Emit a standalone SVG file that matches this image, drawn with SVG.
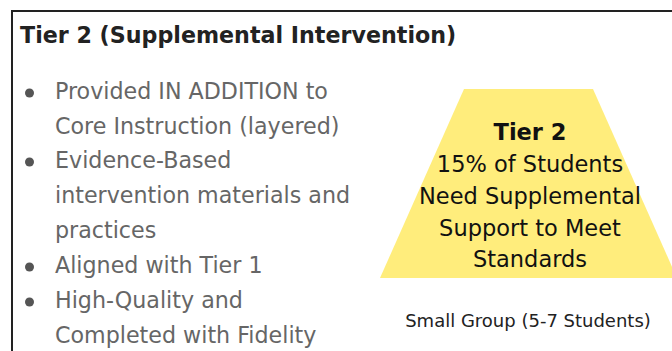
<svg xmlns="http://www.w3.org/2000/svg" width="672" height="351" viewBox="0 0 672 351">
<style>
.title{font-family:"DejaVu Sans",sans-serif;font-weight:bold;font-size:22.2px;fill:#222}
.bul{font-family:"DejaVu Sans",sans-serif;font-size:22.2px;fill:#666}
.dot{fill:#555}
.pyr{font-family:"DejaVu Sans",sans-serif;font-size:22.5px;fill:#111;text-anchor:middle}
.small{font-family:"DejaVu Sans",sans-serif;font-size:18px;fill:#222;text-anchor:middle}
</style>
<rect width="672" height="351" fill="#fff"/>
<g id="frame" stroke="#222" stroke-width="2" fill="none">
<line x1="12" y1="11" x2="672" y2="11"/>
<line x1="12" y1="10" x2="12" y2="351"/>
</g>
<g id="title"><text class="title" x="20" y="43">Tier 2 (Supplemental Intervention)</text></g>
<g id="bullets">
<circle class="dot" cx="29.5" cy="93" r="4.5"/>
<text class="bul" x="55" y="99">Provided IN ADDITION to</text>
<text class="bul" x="55" y="134">Core Instruction (layered)</text>
<circle class="dot" cx="29.5" cy="162" r="4.5"/>
<text class="bul" x="55" y="168">Evidence-Based</text>
<text class="bul" x="55" y="203">intervention materials and</text>
<text class="bul" x="55" y="238">practices</text>
<circle class="dot" cx="29.5" cy="267" r="4.5"/>
<text class="bul" x="55" y="273">Aligned with Tier 1</text>
<circle class="dot" cx="29.5" cy="302" r="4.5"/>
<text class="bul" x="55" y="308">High-Quality and</text>
<text class="bul" x="55" y="343">Completed with Fidelity</text>
</g>
<g id="pyramid">
<polygon points="464,89 593,89 677,278 380,278" fill="#FFED7C"/>
<text class="pyr" x="530" y="140" font-weight="bold">Tier 2</text>
<text class="pyr" x="530" y="172">15% of Students</text>
<text class="pyr" x="530" y="204">Need Supplemental</text>
<text class="pyr" x="530" y="236">Support to Meet</text>
<text class="pyr" x="530" y="267">Standards</text>
</g>
<g id="caption"><text class="small" x="528" y="327">Small Group (5-7 Students)</text></g>
</svg>
